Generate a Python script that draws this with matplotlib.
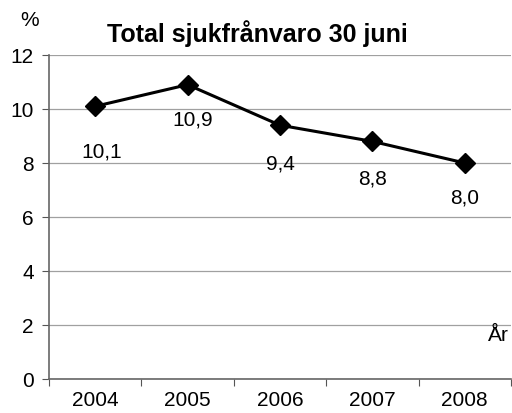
import matplotlib.pyplot as plt

plt.rcParams['font.family'] = ['Liberation Sans', 'DejaVu Sans']

years = ['2004', '2005', '2006', '2007', '2008']
values = [10.1, 10.9, 9.4, 8.8, 8.0]
labels = ['10,1', '10,9', '9,4', '8,8', '8,0']

fig = plt.figure(figsize=(5.12, 4.14), dpi=100)
ax = fig.add_axes([49 / 512, 1 - 380 / 414, 462 / 512, 324 / 414])

x = list(range(len(years)))
ax.grid(axis='y', color='#a0a0a0', lw=0.9)
ax.set_axisbelow(True)
ax.plot(x, values, color='black', lw=2.2, marker='D', ms=10, mfc='black', mec='black',
        zorder=3)

# label offsets in points (placed by hand below each marker)
offsets = [(5, -32), (4, -24.5), (0, -27.5), (0, -26.5), (0, -24.5)]
for xi, v, lab, off in zip(x, values, labels, offsets):
    ax.annotate(lab, (xi, v), xytext=off, textcoords='offset points',
                ha='center', va='center', fontsize=15)

ax.set_xlim(-0.5, 4.5)
ax.set_ylim(0, 12)
ax.set_yticks(range(0, 13, 2))
ax.set_xticks([i - 0.5 for i in range(6)], minor=False)
ax.set_xticklabels([])
ax.set_xticks(x, minor=True)
ax.set_xticklabels(years, minor=True)
ax.tick_params(axis='x', which='minor', length=0, labelsize=15, pad=8)
ax.tick_params(axis='x', which='major', length=5, color='#555555')
ax.tick_params(axis='y', labelsize=15, length=5, color='#555555', pad=6)

for s in ['left', 'bottom']:
    ax.spines[s].set_color('#666666')
    ax.spines[s].set_linewidth(1.2)
ax.spines['right'].set_visible(False)
ax.spines['top'].set_visible(False)

fig.text(30 / 512, 1 - 20 / 414, '%', ha='center', va='center', fontsize=15)
fig.text(257 / 512, 1 - 34 / 414, 'Total sjukfrånvaro 30 juni', ha='center',
         va='center', fontsize=18, fontweight='bold')
ax.text(4.48, 1.65, 'År', ha='right', va='center', fontsize=15)

fig.savefig('out.png', dpi=100)
